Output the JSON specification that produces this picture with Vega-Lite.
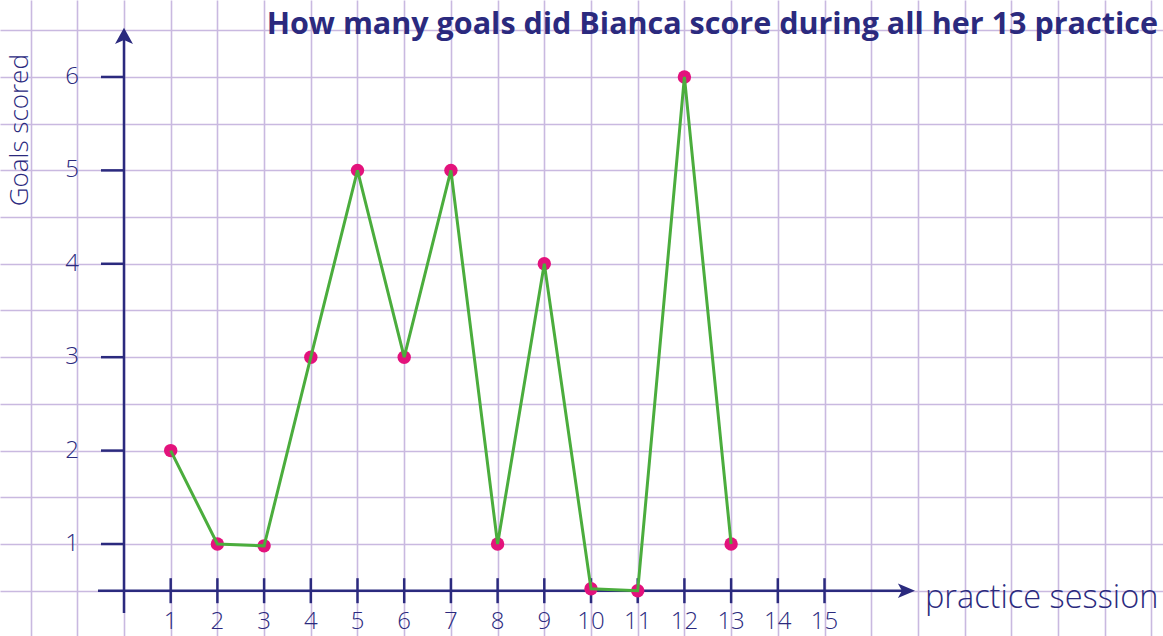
{
  "$schema": "https://vega.github.io/schema/vega-lite/v6.json",
  "width": 1163,
  "height": 636,
  "autosize": {"type": "fit", "contains": "padding"},
  "padding": 0,
  "background": "white",
  "config": {"view": {"stroke": null}, "font": "Open Sans"},
  "data": {"values": [{"one": 1}]},
  "datasets": {
    "pts": [
      {"session": 1, "goals": 2},
      {"session": 2, "goals": 1},
      {"session": 3, "goals": 0.98},
      {"session": 4, "goals": 3},
      {"session": 5, "goals": 5},
      {"session": 6, "goals": 3},
      {"session": 7, "goals": 5},
      {"session": 8, "goals": 1},
      {"session": 9, "goals": 4},
      {"session": 10, "goals": 0.52},
      {"session": 11, "goals": 0.5},
      {"session": 12, "goals": 6},
      {"session": 13, "goals": 1}
    ],
    "xticks": [{"s": 1}, {"s": 2}, {"s": 3}, {"s": 4}, {"s": 5}, {"s": 6}, {"s": 7}, {"s": 8}, {"s": 9}, {"s": 10}, {"s": 11}, {"s": 12}, {"s": 13}, {"s": 14}, {"s": 15}],
    "yticks": [{"g": 1}, {"g": 2}, {"g": 3}, {"g": 4}, {"g": 5}, {"g": 6}]
  },
  "layer": [
    {
      "data": {"name": "pts"},
      "mark": {"type": "point", "opacity": 0},
      "encoding": {
        "x": {"field": "session", "type": "quantitative",
          "scale": {"domain": [-2.655, 22.248], "nice": false, "zero": false},
          "axis": {"values": [-2,-1,0,1,2,3,4,5,6,7,8,9,10,11,12,13,14,15,16,17,18,19,20,21,22],
            "grid": true, "gridColor": "#c9b9e0", "gridWidth": 1.6, "gridOpacity": 1,
            "labels": false, "ticks": false, "domain": false, "title": null}},
        "y": {"field": "goals", "type": "quantitative",
          "scale": {"domain": [0.015, 6.824], "nice": false, "zero": false},
          "axis": {"values": [0.5,1,1.5,2,2.5,3,3.5,4,4.5,5,5.5,6,6.5],
            "grid": true, "gridColor": "#c9b9e0", "gridWidth": 1.6, "gridOpacity": 1,
            "labels": false, "ticks": false, "domain": false, "title": null}}
      }
    },
    {
      "mark": {"type": "rule", "stroke": "#2b2a7e", "strokeWidth": 2.5},
      "encoding": {"x": {"datum": 0}, "y": {"datum": 0.26}, "y2": {"datum": 6.45}}
    },
    {
      "mark": {"type": "point", "shape": "M0,-0.9L1,0.9L0,0.45L-1,0.9Z", "filled": true, "fill": "#2b2a7e", "opacity": 1, "size": 324, "strokeWidth": 0},
      "encoding": {"x": {"datum": 0}, "y": {"datum": 6.44}}
    },
    {
      "mark": {"type": "rule", "stroke": "#2b2a7e", "strokeWidth": 2.5},
      "encoding": {"y": {"datum": 0.5}, "x": {"datum": -0.557}, "x2": {"datum": 16.7}}
    },
    {
      "mark": {"type": "point", "shape": "M1,0L-0.9,-0.8L-0.45,0L-0.9,0.8Z", "filled": true, "fill": "#2b2a7e", "opacity": 1, "size": 324, "strokeWidth": 0},
      "encoding": {"x": {"datum": 16.745}, "y": {"datum": 0.5}}
    },
    {
      "data": {"name": "xticks"},
      "mark": {"type": "tick", "orient": "vertical", "color": "#2b2a7e", "size": 25, "thickness": 2.5, "opacity": 1},
      "encoding": {"x": {"field": "s", "type": "quantitative"}, "y": {"datum": 0.5}}
    },
    {
      "data": {"name": "xticks"},
      "mark": {"type": "text", "color": "#2b2a7e", "fontSize": 24, "fontWeight": 300, "dy": 31, "baseline": "middle", "align": "center"},
      "encoding": {"x": {"field": "s", "type": "quantitative"}, "y": {"datum": 0.5}, "text": {"field": "s"}}
    },
    {
      "data": {"name": "yticks"},
      "mark": {"type": "tick", "orient": "horizontal", "color": "#2b2a7e", "size": 23, "thickness": 2.5, "opacity": 1, "xOffset": -11.5},
      "encoding": {"y": {"field": "g", "type": "quantitative"}, "x": {"datum": 0}}
    },
    {
      "data": {"name": "yticks"},
      "mark": {"type": "text", "color": "#2b2a7e", "fontSize": 24, "fontWeight": 300, "dx": -52, "baseline": "middle", "align": "center"},
      "encoding": {"y": {"field": "g", "type": "quantitative"}, "x": {"datum": 0}, "text": {"field": "g"}}
    },
    {
      "data": {"name": "pts"},
      "mark": {"type": "circle", "color": "#e3127c", "size": 180, "opacity": 1},
      "encoding": {"x": {"field": "session", "type": "quantitative"}, "y": {"field": "goals", "type": "quantitative"}}
    },
    {
      "data": {"name": "pts"},
      "mark": {"type": "line", "color": "#4bad3d", "strokeWidth": 3},
      "encoding": {"x": {"field": "session", "type": "quantitative"}, "y": {"field": "goals", "type": "quantitative"}}
    },
    {
      "mark": {"type": "text", "text": "How many goals did Bianca score during all her 13 practice", "color": "#2b2a7e", "fontSize": 30.5, "fontWeight": "bold", "align": "right", "baseline": "middle"},
      "encoding": {"x": {"datum": 22.14}, "y": {"datum": 6.56}}
    },
    {
      "mark": {"type": "text", "text": "practice session", "color": "#2b2a7e", "fontSize": 32.5, "fontWeight": 300, "align": "left", "baseline": "alphabetic", "dy": 17},
      "encoding": {"x": {"datum": 17.15}, "y": {"datum": 0.5}}
    },
    {
      "mark": {"type": "text", "text": "Goals scored", "color": "#2b2a7e", "fontSize": 26, "fontWeight": 300, "align": "center", "baseline": "middle", "angle": 270},
      "encoding": {"x": {"datum": -2.23}, "y": {"datum": 5.43}}
    }
  ]
}
